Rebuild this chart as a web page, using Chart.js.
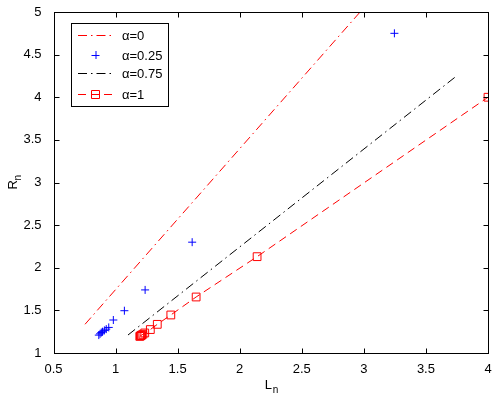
<!DOCTYPE html>
<html lang="en">
<head>
<meta charset="UTF-8">
<title>R_n vs L_n</title>
<script src="https://cdn.jsdelivr.net/npm/chart.js"></script>
<style>
    body { margin: 0; background: #fff; }
    .wrap { width: 501px; height: 399px; }
</style>
</head>
<body>
<div class="wrap"><canvas id="c"></canvas></div>
<script>
// --- data ---
const xTicks = [0.5, 1, 1.5, 2, 2.5, 3, 3.5, 4];
const yTicks = [1, 1.5, 2, 2.5, 3, 3.5, 4, 4.5, 5];

// alpha = 0 (fitted line)
const a0L = [0.754, 2.97];
const a0R = [1.337, 5.0];

// alpha = 0.25 (points)
const a25L = [0.865, 0.875, 0.885, 0.895, 0.91, 0.925, 0.945, 0.982, 1.071, 1.238, 1.617, 3.246];
const a25R = [1.21, 1.225, 1.24, 1.25, 1.265, 1.28, 1.30, 1.387, 1.496, 1.74, 2.30, 4.75];

// alpha = 0.75 (fitted line)
const a75L = [1.10, 3.756];
const a75R = [1.211, 4.26];

// alpha = 1 (points on line)
const a1L = [1.195, 1.20, 1.205, 1.21, 1.22, 1.235, 1.28, 1.336, 1.445, 1.649, 2.14, 4.0];
const a1R = [1.195, 1.20, 1.205, 1.21, 1.22, 1.235, 1.275, 1.336, 1.446, 1.657, 2.13, 4.0];

const legendNames = ['\u03b1=0', '\u03b1=0.25', '\u03b1=0.75', '\u03b1=1'];

const pts = (xs, ys) => xs.map((x, i) => ({ x: x, y: ys[i] }));
const FONT = '"Liberation Sans", Arial, sans-serif';
const RED = 'rgb(255,0,0)', BLUE = 'rgb(0,0,255)';
const DASHDOT = [9, 4, 1.5, 4];
const DASH = [8, 5];

// box + inward ticks on all four sides
const framePlugin = {
    id: 'frame',
    afterDraw(chart) {
        const { ctx, chartArea: a, scales } = chart;
        ctx.save();
        ctx.strokeStyle = '#000';
        ctx.lineWidth = 1;
        ctx.setLineDash([]);
        const L = Math.round(a.left) + 0.5, R = Math.round(a.right) + 0.5;
        const T = Math.round(a.top) + 0.5, B = Math.round(a.bottom) + 0.5;
        ctx.strokeRect(L, T, R - L, B - T);
        ctx.beginPath();
        xTicks.forEach(v => {
            const px = Math.round(scales.x.getPixelForValue(v)) + 0.5;
            ctx.moveTo(px, B); ctx.lineTo(px, B - 5);
            ctx.moveTo(px, T); ctx.lineTo(px, T + 5);
        });
        yTicks.forEach(v => {
            const py = Math.round(scales.y.getPixelForValue(v)) + 0.5;
            ctx.moveTo(L, py); ctx.lineTo(L + 5, py);
            ctx.moveTo(R, py); ctx.lineTo(R - 5, py);
        });
        ctx.stroke();

        // axis titles with subscripts
        ctx.fillStyle = '#000';
        ctx.textBaseline = 'alphabetic';
        const cx = (a.left + a.right) / 2;
        ctx.font = '13px ' + FONT;
        ctx.fillText('L', cx - 6, 389);
        ctx.font = '10px ' + FONT;
        ctx.fillText('n', cx + 2, 393);
        ctx.translate(17, (a.top + a.bottom) / 2);
        ctx.rotate(-Math.PI / 2);
        ctx.font = '13px ' + FONT;
        ctx.fillText('R', -7, 0);
        ctx.font = '10px ' + FONT;
        ctx.fillText('n', 2, 4);
        ctx.restore();
    }
};

// MATLAB-like legend box inside the plot
const legendPlugin = {
    id: 'mlegend',
    afterDraw(chart) {
        const { ctx } = chart;
        const bx = 71.5, by = 23.5, bw = 97, bh = 83;
        ctx.save();
        ctx.fillStyle = '#fff';
        ctx.fillRect(bx, by, bw, bh);
        ctx.strokeStyle = '#000';
        ctx.lineWidth = 1;
        ctx.strokeRect(bx, by, bw, bh);
        const rows = [35, 55, 73, 94];
        const x1 = 78, x2 = 113, xm = 95.5;
        chart.data.datasets.forEach((ds, i) => {
            const y = rows[i] + 0.5;
            ctx.setLineDash([]);
            if (ds.showLine) {
                ctx.strokeStyle = ds.borderColor;
                ctx.setLineDash(ds.borderDash || []);
                ctx.beginPath();
                ctx.moveTo(x1, y); ctx.lineTo(x2, y);
                ctx.stroke();
                ctx.setLineDash([]);
            }
            if (ds.pointRadius > 0) {
                ctx.strokeStyle = ds.pointBorderColor;
                ctx.beginPath();
                if (ds.pointStyle === 'cross') {
                    ctx.moveTo(xm - 4, y); ctx.lineTo(xm + 4, y);
                    ctx.moveTo(xm + 0.5, y - 4.5); ctx.lineTo(xm + 0.5, y + 3.5);
                } else {
                    ctx.fillStyle = '#fff';
                    ctx.fillRect(xm - 4, y - 4, 8, 8);
                    ctx.rect(xm - 4, y - 4, 8, 8);
                    ctx.moveTo(xm - 4, y); ctx.lineTo(xm + 4, y);
                }
                ctx.stroke();
            }
            ctx.fillStyle = '#000';
            ctx.font = '13px ' + FONT;
            ctx.textBaseline = 'middle';
            ctx.fillText(legendNames[i], 122, y + 1);
        });
        ctx.restore();
    }
};

const tickText = v => String(Math.round(v * 10) / 10);

new Chart(document.getElementById('c'), {
    type: 'scatter',
    data: {
        datasets: [
            {
                label: legendNames[0], data: pts(a0L, a0R), showLine: true,
                borderColor: RED, borderWidth: 1, borderDash: DASHDOT, pointRadius: 0
            },
            {
                label: legendNames[1], data: pts(a25L, a25R), showLine: false,
                pointStyle: 'cross', pointRadius: 4, pointBorderColor: BLUE,
                pointBorderWidth: 1, borderColor: BLUE
            },
            {
                label: legendNames[2], data: pts(a75L, a75R), showLine: true,
                borderColor: '#000', borderWidth: 1, borderDash: DASHDOT, pointRadius: 0
            },
            {
                label: legendNames[3], data: pts(a1L, a1R), showLine: true,
                borderColor: RED, borderWidth: 1, borderDash: DASH,
                pointStyle: 'rect', pointRadius: 5.5, pointBorderColor: RED,
                pointBackgroundColor: 'rgba(0,0,0,0)', pointBorderWidth: 1
            }
        ]
    },
    options: {
        responsive: true,
        maintainAspectRatio: false,
        animation: false,
        layout: { padding: { top: 12, right: 13, left: 0, bottom: 0 } },
        scales: {
            x: {
                type: 'linear', min: 0.5, max: 4,
                afterBuildTicks: s => { s.ticks = xTicks.map(v => ({ value: v })); },
                afterFit: s => { s.height = 46; },
                grid: { display: false },
                border: { display: false },
                ticks: { color: '#000', padding: 1, font: { family: FONT, size: 13 }, maxRotation: 0, callback: tickText }
            },
            y: {
                type: 'linear', min: 1, max: 5,
                afterBuildTicks: s => { s.ticks = yTicks.map(v => ({ value: v })); },
                afterFit: s => { s.width = 53.5; },
                grid: { display: false },
                border: { display: false },
                ticks: { color: '#000', padding: 4, font: { family: FONT, size: 13 }, callback: tickText }
            }
        },
        plugins: {
            legend: { display: false },
            tooltip: { enabled: false }
        }
    },
    plugins: [framePlugin, legendPlugin]
});
</script>
</body>
</html>
